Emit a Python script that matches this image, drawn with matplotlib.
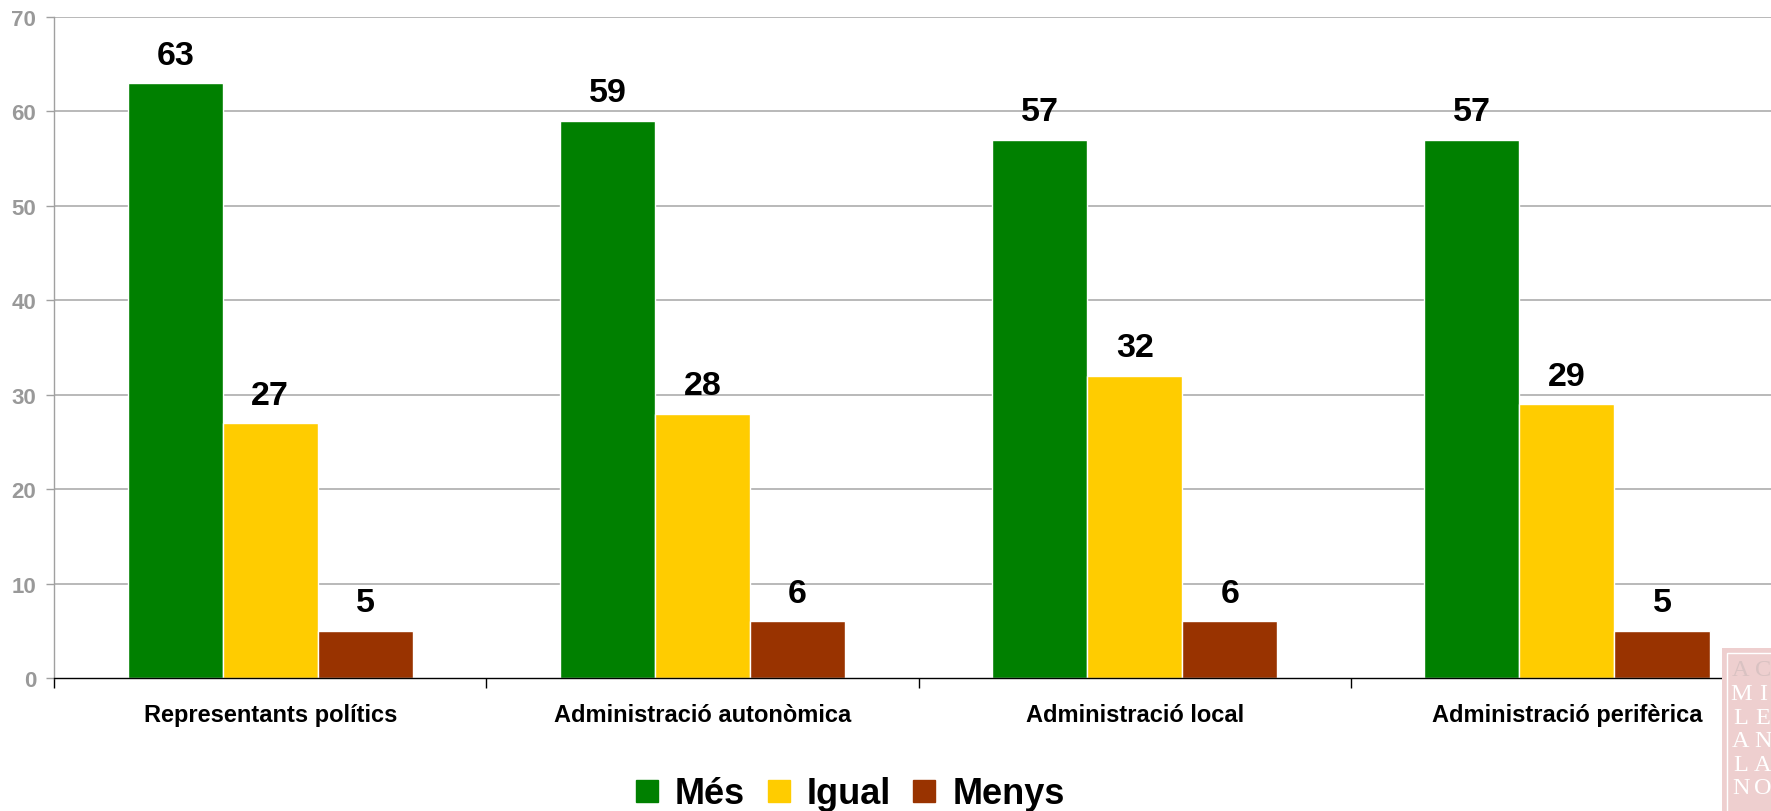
import matplotlib
matplotlib.use("Agg")
import matplotlib.pyplot as plt
from matplotlib.lines import Line2D
from matplotlib.patches import Rectangle
import numpy as np

plt.rcParams['font.family'] = ['Liberation Sans', 'DejaVu Sans']

categories = ["Representants polítics", "Administració autonòmica",
              "Administració local", "Administració perifèrica"]
series_names = ["Més", "Igual", "Menys"]
mes = [63, 59, 57, 57]
igual = [27, 28, 32, 29]
menys = [5, 6, 6, 5]
colors = ["#008000", "#FFCC00", "#993300"]
yticks = [0, 10, 20, 30, 40, 50, 60, 70]
logo_rows = ["AC", "MI", "LE", "AN", "LA", "NO"]

W, H = 1771, 812
fig = plt.figure(figsize=(W / 100, H / 100), dpi=100)
ax = fig.add_axes([54.2 / W, 1 - 679 / H, 4 * 432.2 / W, (679 - 18) / H])

x = np.arange(len(categories)) + 0.5
w = 0.22
for k, (vals, col) in enumerate(zip([mes, igual, menys], colors)):
    pos = x + (k - 1) * w
    bars = ax.bar(pos, vals, width=w, color=col, edgecolor="white", linewidth=1.0, zorder=3)
    for b, v in zip(bars, vals):
        ax.annotate(str(v), (b.get_x() + b.get_width() / 2, v), xytext=(0, 9),
                    textcoords="offset points", ha="center", va="bottom",
                    fontsize=24.5, fontweight="bold", color="black", zorder=4)

ax.set_xlim(0, 4)
ax.set_ylim(0, 70)
ax.set_yticks(yticks)
ax.set_yticklabels([str(t) for t in yticks])
ax.tick_params(axis="y", direction="out", length=6, width=1, color="#A0A0A0",
               labelcolor="#999999", labelsize=16, pad=7)
for lab in ax.get_yticklabels():
    lab.set_fontweight("bold")

ax.set_xticks([0, 1, 2, 3, 4])
ax.set_xticklabels([])
ax.set_xticks(x, minor=True)
ax.set_xticklabels(categories, minor=True, fontsize=17, fontweight="bold")
ax.tick_params(axis="x", which="major", direction="out", length=7, width=1, color="black")
ax.tick_params(axis="x", which="minor", length=0, pad=18)

for yv in yticks[1:]:
    ax.axhline(yv, color="#A6A6A6", linewidth=1.1, zorder=1)

ax.spines["top"].set_visible(False)
ax.spines["right"].set_visible(False)
ax.spines["left"].set_color("#A0A0A0")
ax.spines["left"].set_linewidth(1.0)
ax.spines["bottom"].set_color("black")
ax.spines["bottom"].set_linewidth(1.0)
ax.spines["bottom"].set_zorder(5)

handles = [Line2D([], [], marker="s", linestyle="none", markersize=16,
                  markerfacecolor=c, markeredgecolor=c) for c in colors]
fig.legend(handles, series_names, loc="center", ncol=3,
           bbox_to_anchor=(849 / W, 1 - 795 / H), frameon=False,
           prop={"size": 26, "weight": "bold"}, handlelength=0.75,
           handletextpad=0.4, columnspacing=0.55, borderaxespad=0)

# partial logo at bottom right
fig.patches.append(Rectangle((1722 / W, 0), (W - 1722) / W + 0.01, (H - 649) / H,
                             transform=fig.transFigure, facecolor="#EECFCF",
                             edgecolor="none", zorder=10))
fig.patches.append(Rectangle((1727 / W, -0.01), (W - 1727) / W + 0.01, (H - 654) / H + 0.01,
                             transform=fig.transFigure, facecolor="none",
                             edgecolor="white", linewidth=1.0, zorder=11))
for i, row in enumerate(logo_rows):
    yc = 671 + i * 23.6
    col = "#D9C2C2" if i == 0 else "white"
    for j, ch in enumerate(row):
        fig.text((1741 + j * 22) / W, 1 - yc / H, ch, ha="center", va="center",
                 fontsize=17.5, family="Liberation Serif", color=col, zorder=12)

fig.savefig("out.png", dpi=100)
